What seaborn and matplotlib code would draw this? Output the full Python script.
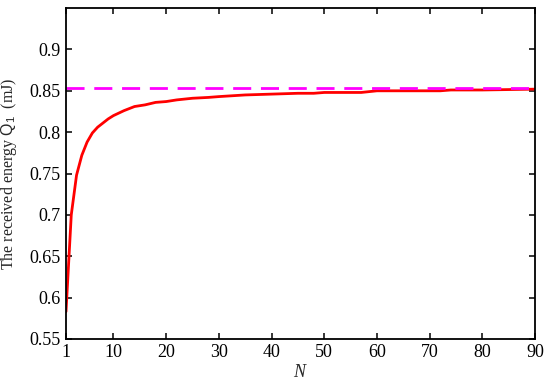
import numpy as np
import pandas as pd
import matplotlib
matplotlib.use("Agg")
import matplotlib.pyplot as plt
import seaborn as sns

# Values
n_values = [1, 2, 3, 4, 5, 6, 7, 8, 9, 10, 12, 14, 16, 18, 20, 22, 25, 28, 30,
            35, 40, 45, 48, 50, 57, 60, 72, 74, 80, 90]
energy = [0.583, 0.700, 0.748, 0.772, 0.788, 0.799, 0.806, 0.811, 0.816, 0.820,
          0.826, 0.831, 0.833, 0.836, 0.837, 0.839, 0.841, 0.842, 0.843,
          0.845, 0.846, 0.847, 0.847, 0.848, 0.848, 0.850, 0.850, 0.851, 0.851, 0.852]
upper_bound = 0.853
x_ticks = [1, 10, 20, 30, 40, 50, 60, 70, 80, 90]
y_ticks = [0.55, 0.6, 0.65, 0.7, 0.75, 0.8, 0.85, 0.9]
y_tick_labels = ["0.55", "0.6", "0.65", "0.7", "0.75", "0.8", "0.85", "0.9"]

df = pd.DataFrame({"N": n_values, "Q": energy})

sns.set_style("ticks")
plt.rcParams["font.family"] = ["Liberation Serif", "DejaVu Serif"]
plt.rcParams["mathtext.fontset"] = "custom"
plt.rcParams["mathtext.rm"] = "Liberation Sans"
plt.rcParams["mathtext.it"] = "Liberation Serif:italic"

fig = plt.figure(figsize=(5.5, 3.86), dpi=100)
ax = fig.add_axes([0.12, 0.122, 0.853, 0.857])

sns.lineplot(data=df, x="N", y="Q", color="red", linewidth=2, ax=ax)
ax.axhline(upper_bound, color="#ff00ff", linestyle=(0, (6.5, 3.5)), linewidth=2)

ax.set_xlim(1, 90)
ax.set_ylim(0.55, 0.95)
ax.set_xticks(x_ticks)
ax.set_yticks(y_ticks)
ax.set_yticklabels(y_tick_labels)
ax.tick_params(direction="in", top=True, right=True, length=4, width=1.1,
               labelsize=13, colors="black", pad=4)
for sp in ax.spines.values():
    sp.set_linewidth(1.3)
    sp.set_color("black")

ax.set_xlabel("$N$", fontsize=13, labelpad=2)
ax.set_ylabel(r"The received energy $\mathrm{Q}_1$  (mJ)", fontsize=11.5, labelpad=7)

fig.savefig("out.png", dpi=100)
